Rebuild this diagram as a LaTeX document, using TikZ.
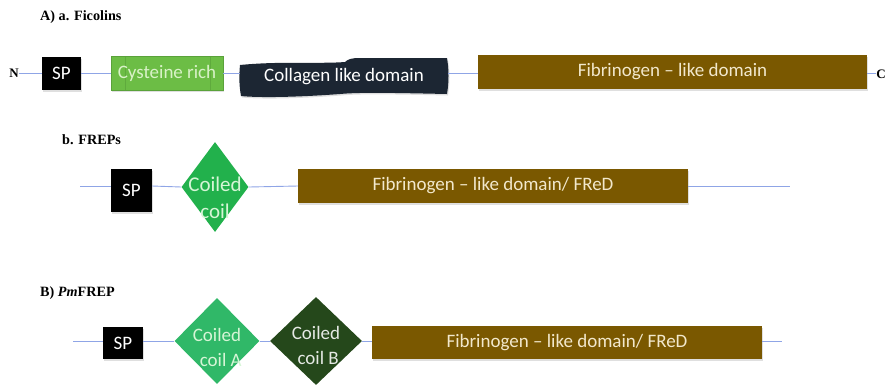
\documentclass[tikz,border=0pt]{standalone}
\usepackage{fontspec}
\setmainfont{Liberation Serif}
\newfontfamily\boxfont{Carlito}
\usetikzlibrary{shapes.geometric,shadows}
\definecolor{linkc}{HTML}{8FA5E6}
\definecolor{cysc}{HTML}{6CBD45}
\definecolor{cysd}{HTML}{5AA23A}
\definecolor{cyst}{HTML}{D9F2C8}
\definecolor{collc}{HTML}{1C2633}
\definecolor{fibc}{HTML}{7A5800}
\definecolor{fibt}{HTML}{F2E8CC}
\definecolor{ccc}{HTML}{22B14C}
\definecolor{cca}{HTML}{30B868}
\definecolor{ccb}{HTML}{25481B}
\definecolor{cct}{HTML}{D6F5D6}
\begin{document}
\begin{tikzpicture}[x=1pt,y=-1pt,
  link/.style={draw=linkc, line width=0.9pt},
  dom/.style={rectangle, inner sep=0pt, font=\boxfont\fontsize{19}{22}\selectfont,
     drop shadow={opacity=0.25, shadow xshift=1pt, shadow yshift=-1.5pt}},
  spbox/.style={dom, fill=black, text=white},
  fibbox/.style={dom, fill=fibc, text=fibt},
  dia/.style={diamond, inner sep=0pt, aspect=1},
  diatext/.style={align=center, inner sep=0pt, font=\boxfont\fontsize{19}{25}\selectfont},
  title/.style={font=\bfseries\fontsize{14.2}{16}\selectfont, anchor=west, inner sep=0pt},
  term/.style={font=\bfseries\fontsize{13}{15}\selectfont, inner sep=0pt}
]
\useasboundingbox (0,0) rectangle (890,384);

% ---------- A) a. Ficolins ----------
\node[title] (tA) at (40,17) {A) a. Ficolins};
\node[term] (N) at (14,73) {N};
\node[term] (C) at (881,74) {C};
\node[spbox, minimum width=39pt, minimum height=33pt] (spA) at (61.5,73.5) {SP};
\node[dom, fill=cysc, draw=cysd, line width=0.4pt, minimum width=112pt, minimum height=34pt] (cys) at (167,73) {};
\draw[cysd!70!cysc, line width=0.4pt] (125,56.5) -- (125,89.5) (210,56.5) -- (210,89.5);
\node[inner sep=0pt, text=cyst, font=\boxfont\fontsize{19}{22}\selectfont] (cyst) at (cys) {Cysteine rich};
\path[fill=collc, drop shadow={opacity=0.25, shadow xshift=1pt, shadow yshift=-1.5pt}]
  (240,65) .. controls (280,61) and (320,64) .. (345,62)
  .. controls (348,59) and (352,58) .. (360,58) -- (447,58)
  .. controls (449,70) and (449,82) .. (447,94)
  .. controls (400,93) and (360,92) .. (340,94)
  .. controls (300,97) and (260,98) .. (241,96)
  .. controls (239,85) and (239,75) .. (240,65) -- cycle;
\node[rectangle, inner sep=0pt, minimum width=208pt, minimum height=38pt, text=white,
      font=\boxfont\fontsize{19}{22}\selectfont] (coll) at (344,77) {Collagen like domain};
\node[fibbox, minimum width=389pt, minimum height=34pt] (fibA) at (672.5,72) {Fibrinogen – like domain};
\draw[link] (N.east) -- (N.east -| spA.west);
\draw[link] (spA.east |- N) -- (cys.west |- N);
\draw[link] (cys.east |- N) -- (coll.west |- N);
\draw[link] (coll.east |- N) -- (fibA.west |- N);
\draw[link] (fibA.east |- N) -- (C.west |- N);

% ---------- b. FREPs ----------
\node[title] (tb) at (62,140) {b. FREPs};
\coordinate (bL) at (80,186);
\coordinate (bR) at (790,186);
\node[spbox, minimum width=41pt, minimum height=43pt] (spb) at (131.5,190.5) {SP};
\node[dia, fill=ccc, minimum width=67pt, minimum height=90pt] (ccb1) at (215,187) {};
\node[diatext, text=cct, font=\boxfont\fontsize{21}{27}\selectfont] (ccb1t) at (215,198) {Coiled\\coil};
\node[fibbox, minimum width=390pt, minimum height=34pt] (fibb) at (493,186) {Fibrinogen – like domain/ FReD};
\draw[link] (bL) -- (spb.west |- bL);
\draw[link] (spb.east |- bL) -- (ccb1.west);
\draw[link] (ccb1.east) -- (fibb.west |- bL);
\draw[link] (fibb.east |- bL) -- (bR);

% ---------- B) PmFREP ----------
\node[title] (tB) at (40,293) {B) \textit{Pm}FREP};
\coordinate (BL) at (73,341);
\coordinate (BR) at (782,341);
\node[spbox, minimum width=40pt, minimum height=32pt] (spB) at (123,343) {SP};
\node[dia, fill=cca, minimum width=85pt, minimum height=86pt] (ccA) at (217,341) {};
\node[diatext, text=cct] (ccAt) at (217,347) {Coiled\\\ \,coil A};
\node[dia, fill=ccb, minimum width=92pt, minimum height=88pt] (ccB) at (316,341) {};
\node[diatext, text=white!88!ccb] (ccBt) at (316,345) {Coiled\\\ coil B};
\node[fibbox, minimum width=390pt, minimum height=33pt] (fibB) at (567,342.5) {Fibrinogen – like domain/ FReD};
\draw[link] (BL) -- (spB.west |- BL);
\draw[link] (spB.east |- BL) -- (ccA.west);
\draw[link] (ccA.east) -- (ccB.west);
\draw[link] (ccB.east) -- (fibB.west |- BL);
\draw[link] (fibB.east |- BL) -- (BR);
\end{tikzpicture}
\end{document}
